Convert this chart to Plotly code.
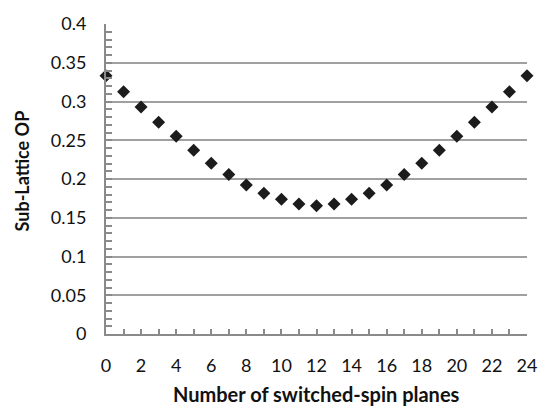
import plotly.graph_objects as go

planes = list(range(25))
sublattice_op = [0.3333, 0.3125, 0.2929, 0.2732, 0.2552, 0.2371, 0.2204, 0.2057,
                 0.1924, 0.1815, 0.1740, 0.1677, 0.1655, 0.1677, 0.1740, 0.1815,
                 0.1924, 0.2057, 0.2204, 0.2371, 0.2552, 0.2732, 0.2929, 0.3125, 0.3333]
x_ticks = list(range(0, 25, 2))
y_ticks = [0, 0.05, 0.1, 0.15, 0.2, 0.25, 0.3, 0.35, 0.4]
y_labels = ["0", "0.05", "0.1", "0.15", "0.2", "0.25", "0.3", "0.35", "0.4"]

font_family = "Lato"
axis_gray = "#8a8a8a"
grid_gray = "#a0a0a0"
text_color = "#111111"

fig = go.Figure(go.Scatter(
    x=planes, y=sublattice_op, mode="markers",
    marker=dict(symbol="diamond", size=10, color="#1c1c1c"),
    cliponaxis=False,
))

fig.update_layout(
    width=549, height=409,
    margin=dict(l=106, r=12, t=15, b=75),
    paper_bgcolor="white", plot_bgcolor="white",
    showlegend=False,
    font=dict(family=font_family, size=18, color=text_color),
    annotations=[
        dict(text="<b>Sub-Lattice OP</b>", xref="paper", yref="paper",
             x=-0.2, y=0.527, textangle=-90, showarrow=False,
             font=dict(family=font_family, size=18, color=text_color),
             xanchor="center", yanchor="middle"),
        dict(text="<b>Number of switched-spin planes</b>", xref="paper", yref="paper",
             x=0.5, y=-0.193, showarrow=False,
             font=dict(family=font_family, size=20, color=text_color),
             xanchor="center", yanchor="middle"),
    ],
)

fig.update_xaxes(
    range=[0, 24], tickmode="array", tickvals=x_ticks, ticktext=[str(v) for v in x_ticks],
    showgrid=False, zeroline=False,
    showline=True, linecolor=axis_gray, linewidth=2,
    ticks="inside", ticklen=5, tickcolor=axis_gray, tickwidth=1.5,
    minor=dict(dtick=1, ticks="inside", ticklen=5, tickcolor=axis_gray, tickwidth=1.5),
    ticklabelstandoff=14,
    tickfont=dict(family=font_family, size=18, color=text_color),
)
fig.update_yaxes(
    range=[0, 0.4], tickmode="array", tickvals=y_ticks, ticktext=y_labels,
    showgrid=True, gridcolor=grid_gray, gridwidth=1.5, zeroline=False,
    showline=True, linecolor=axis_gray, linewidth=2,
    ticks="inside", ticklen=6, tickcolor=axis_gray, tickwidth=1.5,
    minor=dict(dtick=0.01, tick0=0, ticks="inside", ticklen=6, tickcolor=axis_gray, tickwidth=1.5),
    ticklabelstandoff=14,
    tickfont=dict(family=font_family, size=18, color=text_color),
)

fig.write_html("out.html")
